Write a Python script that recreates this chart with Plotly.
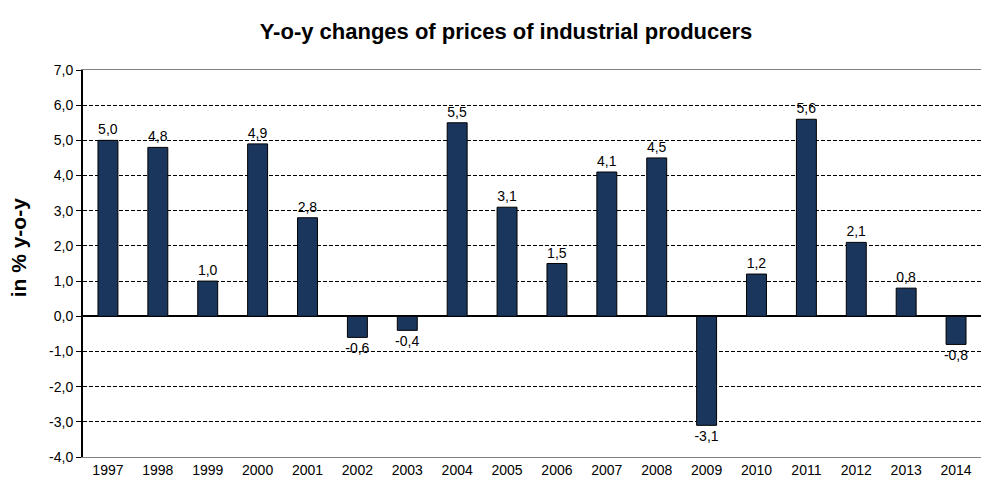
import plotly.graph_objects as go

years = ["1997", "1998", "1999", "2000", "2001", "2002", "2003", "2004", "2005",
         "2006", "2007", "2008", "2009", "2010", "2011", "2012", "2013", "2014"]
changes = [5.0, 4.8, 1.0, 4.9, 2.8, -0.6, -0.4, 5.5, 3.1,
           1.5, 4.1, 4.5, -3.1, 1.2, 5.6, 2.1, 0.8, -0.8]
y_ticks = [-4, -3, -2, -1, 0, 1, 2, 3, 4, 5, 6, 7]

labels = [f"{v:.1f}".replace(".", ",") for v in changes]
tick_text = [f"{t:.1f}".replace(".", ",") for t in y_ticks]

fig = go.Figure()
fig.add_trace(go.Bar(
    x=years, y=changes, width=0.4,
    marker=dict(color="#1B365D", line=dict(color="#000000", width=1)),
    text=labels, textposition="outside", cliponaxis=False, constraintext="none",
    textfont=dict(family="Liberation Sans, Arial", size=14, color="#000000"),
    showlegend=False,
))

fig.update_layout(
    width=999, height=484,
    margin=dict(l=75, r=26, t=62, b=35, autoexpand=False),
    paper_bgcolor="white", plot_bgcolor="white",
    font=dict(family="Liberation Sans, Arial", size=14, color="#000000"),
    title=dict(text="<b>Y-o-y changes of prices of industrial producers</b>",
               x=0.4985, xanchor="center", y=0.952, yanchor="middle",
               font=dict(family="Liberation Sans, Arial", size=22, color="#000000")),
    xaxis=dict(
        type="category", showgrid=False, showline=True, linecolor="#808080",
        linewidth=1, mirror=True, ticks="", tickfont=dict(size=14),
        zeroline=False, automargin=False,
    ),
    yaxis=dict(
        range=[-4, 7], tickvals=y_ticks, ticktext=tick_text,
        showgrid=True, gridcolor="#000000", griddash="4px,2px", gridwidth=1,
        zeroline=True, zerolinecolor="#000000", zerolinewidth=2,
        showline=True, linecolor="#000000", linewidth=2,
        ticks="outside", ticklen=5, tickcolor="#000000", tickwidth=1,
        tickfont=dict(size=14), automargin=False,
    ),
    annotations=[dict(
        text="<b>in % y-o-y</b>", textangle=-90, showarrow=False,
        xref="paper", yref="paper", x=-0.072, y=0.54,
        xanchor="center", yanchor="middle",
        font=dict(family="Liberation Sans, Arial", size=21, color="#000000"),
    )],
)

fig.write_html("out.html")
